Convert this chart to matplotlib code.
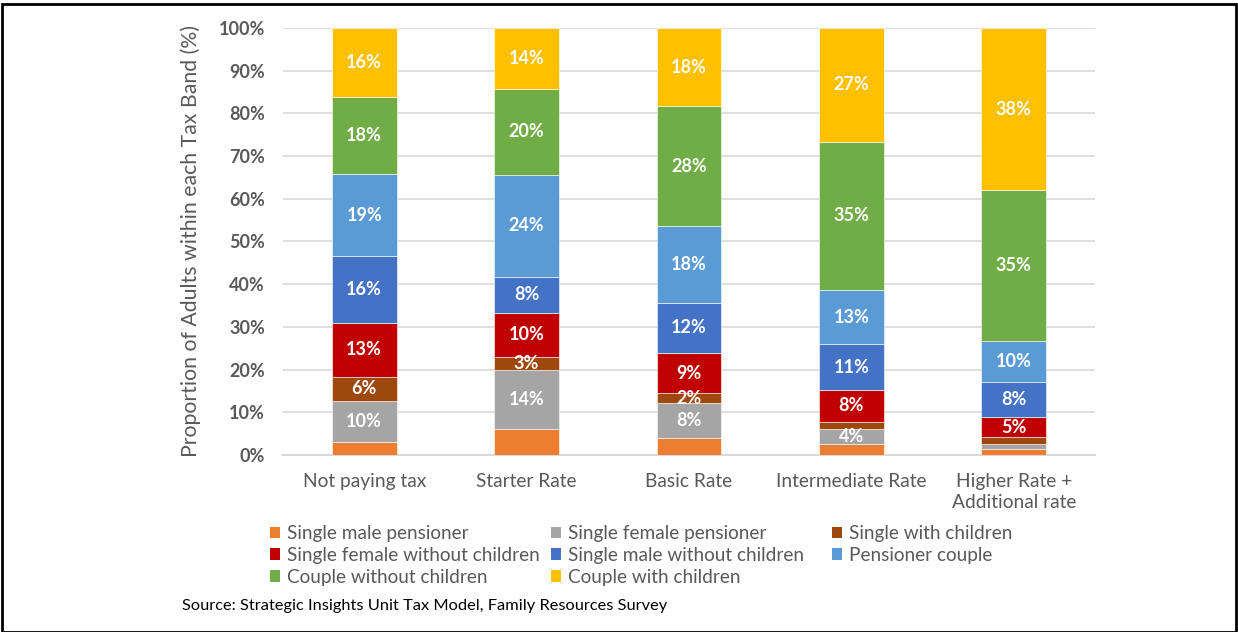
import matplotlib
matplotlib.use("Agg")
import matplotlib.pyplot as plt
from matplotlib.patches import Rectangle, Patch
import numpy as np

plt.rcParams['font.family'] = ['Lato', 'DejaVu Sans']

categories = ["Not paying tax", "Starter Rate", "Basic Rate",
              "Intermediate Rate", "Higher Rate +\nAdditional rate"]

series_names = ["Single male pensioner", "Single female pensioner",
                "Single with children", "Single female without children",
                "Single male without children", "Pensioner couple",
                "Couple without children", "Couple with children"]

single_male_pensioner = [3.1, 6.2, 3.9, 2.5, 1.3]
single_female_pensioner = [9.6, 13.7, 8.2, 3.7, 1.2]
single_with_children = [5.6, 3.1, 2.4, 1.5, 1.6]
single_female_no_children = [12.7, 10.3, 9.4, 7.6, 4.7]
single_male_no_children = [15.6, 8.4, 11.7, 10.6, 8.4]
pensioner_couple = [19.1, 23.9, 18.0, 12.8, 9.6]
couple_no_children = [18.2, 20.1, 28.1, 34.7, 35.2]
couple_with_children = [16.1, 14.3, 18.3, 26.6, 38.0]

colors = ["#ED7D31", "#A5A5A5", "#9E480E", "#C00000",
          "#4472C4", "#5B9BD5", "#70AD47", "#FFC000"]

series = [single_male_pensioner, single_female_pensioner, single_with_children,
          single_female_no_children, single_male_no_children, pensioner_couple,
          couple_no_children, couple_with_children]

W, H = 1238, 632
fig = plt.figure(figsize=(W / 100, H / 100), dpi=100)
ax = fig.add_axes([283 / W, 1 - 455 / H, 812 / W, 427 / H])

text_grey = "#595959"
x = np.arange(len(categories))
bottom = np.zeros(len(categories))
handles = []
for i, (vals, name, col) in enumerate(zip(series, series_names, colors)):
    vals = np.array(vals)
    ax.bar(x, vals, width=0.40, bottom=bottom, color=col,
           edgecolor="white", linewidth=0.4, zorder=3, label=name)
    handles.append(Patch(facecolor=col, edgecolor="none", label=name))
    # data labels (the pensioner-male series carries none)
    if i != 0:
        for xi, v, b in zip(x, vals, bottom):
            if v >= 2:
                ax.text(xi, b + v / 2, f"{v:.0f}%", ha="center", va="center",
                        color="white", fontsize=13, fontweight="bold", zorder=4)
    bottom += vals

ax.set_xlim(-0.5, len(categories) - 0.5)
ax.set_ylim(0, 100)
ax.set_yticks(np.arange(0, 101, 10))
ax.set_yticklabels([f"{v}%" for v in range(0, 101, 10)],
                   fontsize=13, fontweight="bold", color=text_grey)
ax.set_xticks(x)
ax.set_xticklabels(categories, fontsize=13.8, color=text_grey,
                   linespacing=1.3, va="top")
ax.tick_params(axis="y", length=0, pad=13)
ax.tick_params(axis="x", length=0, pad=13)
ax.grid(axis="y", color="#D9D9D9", linewidth=1.2, zorder=0)
ax.set_axisbelow(True)
for s in ["top", "right", "left"]:
    ax.spines[s].set_visible(False)
ax.spines["bottom"].set_color("#D9D9D9")
ax.spines["bottom"].set_linewidth(1.5)

ax.set_ylabel("Proportion of Adults within each Tax Band (%)",
              fontsize=15.3, color=text_grey)
ax.yaxis.set_label_coords(-(283 - 201) / 812, 0.5)

# legend: three equal-width columns, filled row by row
columns = [[0, 3, 6], [1, 4, 7], [2, 5]]
col_x = [270, 551, 832]
for cx, idx in zip(col_x, columns):
    leg = fig.legend([handles[k] for k in idx], [series_names[k] for k in idx],
                     ncol=1, loc="upper left", bbox_to_anchor=(cx / W, 1 - 525 / H),
                     frameon=False, fontsize=13.7, handlelength=0.55,
                     handleheight=0.55, handletextpad=0.35, labelspacing=0.26,
                     borderaxespad=0, borderpad=0)
    for t in leg.get_texts():
        t.set_color(text_grey)

fig.text(182 / W, 1 - 606 / H,
         "Source: Strategic Insights Unit Tax Model, Family Resources Survey",
         fontsize=11.8, color="black", va="center", ha="left")

fig.patches.append(Rectangle((2 / W, 0), 1 - 4 / W, 1 - 4 / H,
                             transform=fig.transFigure, fill=False,
                             edgecolor="black", linewidth=2))

fig.savefig("out.png", dpi=100)
